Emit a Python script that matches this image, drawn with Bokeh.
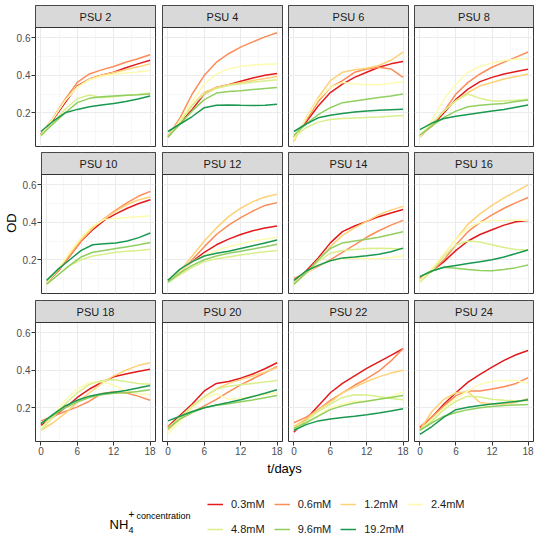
from bokeh.plotting import figure
from bokeh.layouts import column, row
from bokeh.models import Range1d, FixedTicker, BoxAnnotation, Label, Legend, LegendItem
from bokeh.embed import file_html
from bokeh.resources import INLINE

FONT = "Liberation Sans"

DAYS = [0, 2, 4, 6, 8, 10, 12, 14, 16, 18]
CONCENTRATIONS = ["0.3mM", "0.6mM", "1.2mM", "2.4mM", "4.8mM", "9.6mM", "19.2mM"]
COLORS = ["#e31a1c", "#fc8d59", "#fed176", "#fefbb0", "#d9ef8b", "#91cf60", "#1a9850"]
PANELS = ["PSU 2", "PSU 4", "PSU 6", "PSU 8", "PSU 10", "PSU 12",
          "PSU 14", "PSU 16", "PSU 18", "PSU 20", "PSU 22", "PSU 24"]
X_TICKS = [0, 6, 12, 18]
X_MINOR = [3, 9, 15]
Y_TICKS = [0.2, 0.4, 0.6]
Y_MINOR = [0.1, 0.3, 0.5]

# each panel: one list per concentration (0.3, 0.6, 1.2, 2.4, 4.8, 9.6, 19.2 mM)
psu2 = [
    [0.085, 0.164, 0.254, 0.344, 0.38, 0.40, 0.416, 0.44, 0.461, 0.48],
    [0.086, 0.173, 0.272, 0.362, 0.407, 0.429, 0.447, 0.47, 0.488, 0.51],
    [0.08, 0.17, 0.265, 0.34, 0.38, 0.40, 0.415, 0.43, 0.445, 0.461],
    [0.08, 0.17, 0.265, 0.335, 0.375, 0.395, 0.405, 0.412, 0.418, 0.425],
    [0.075, 0.145, 0.22, 0.275, 0.295, 0.28, 0.285, 0.292, 0.298, 0.305],
    [0.08, 0.14, 0.2, 0.254, 0.277, 0.285, 0.29, 0.293, 0.296, 0.30],
    [0.10, 0.155, 0.20, 0.218, 0.232, 0.241, 0.249, 0.26, 0.274, 0.29],
]
psu4 = [
    [0.07, 0.146, 0.218, 0.30, 0.335, 0.35, 0.368, 0.386, 0.40, 0.41],
    [0.074, 0.173, 0.30, 0.40, 0.47, 0.515, 0.55, 0.578, 0.605, 0.627],
    [0.07, 0.15, 0.24, 0.31, 0.335, 0.35, 0.36, 0.372, 0.383, 0.393],
    [0.07, 0.16, 0.26, 0.353, 0.407, 0.434, 0.447, 0.455, 0.459, 0.46],
    [0.07, 0.15, 0.24, 0.30, 0.33, 0.345, 0.355, 0.363, 0.37, 0.376],
    [0.07, 0.14, 0.21, 0.27, 0.305, 0.313, 0.318, 0.324, 0.33, 0.335],
    [0.10, 0.14, 0.18, 0.227, 0.24, 0.242, 0.24, 0.239, 0.24, 0.245],
]
psu6 = [
    [0.07, 0.15, 0.236, 0.308, 0.353, 0.389, 0.416, 0.443, 0.461, 0.474],
    [0.07, 0.16, 0.26, 0.335, 0.371, 0.416, 0.434, 0.443, 0.434, 0.389],
    [0.047, 0.173, 0.281, 0.371, 0.416, 0.429, 0.438, 0.452, 0.48, 0.524],
    [0.06, 0.17, 0.272, 0.335, 0.362, 0.353, 0.35, 0.35, 0.357, 0.366],
    [0.07, 0.12, 0.15, 0.164, 0.169, 0.172, 0.175, 0.178, 0.182, 0.186],
    [0.08, 0.14, 0.19, 0.227, 0.254, 0.263, 0.272, 0.281, 0.29, 0.30],
    [0.10, 0.14, 0.173, 0.187, 0.196, 0.204, 0.209, 0.213, 0.216, 0.219],
]
psu8 = [
    [0.08, 0.13, 0.20, 0.272, 0.326, 0.366, 0.389, 0.407, 0.42, 0.432],
    [0.07, 0.14, 0.209, 0.30, 0.362, 0.407, 0.443, 0.47, 0.497, 0.524],
    [0.08, 0.14, 0.21, 0.265, 0.308, 0.344, 0.362, 0.38, 0.393, 0.407],
    [0.07, 0.16, 0.272, 0.353, 0.416, 0.447, 0.465, 0.479, 0.485, 0.488],
    [0.08, 0.14, 0.21, 0.265, 0.30, 0.277, 0.263, 0.263, 0.267, 0.272],
    [0.08, 0.13, 0.175, 0.209, 0.232, 0.24, 0.245, 0.25, 0.26, 0.268],
    [0.11, 0.145, 0.169, 0.182, 0.191, 0.20, 0.209, 0.218, 0.23, 0.241],
]
psu10 = [
    [0.08, 0.14, 0.22, 0.30, 0.36, 0.41, 0.445, 0.475, 0.50, 0.52],
    [0.08, 0.14, 0.22, 0.30, 0.37, 0.42, 0.465, 0.505, 0.54, 0.565],
    [0.08, 0.15, 0.23, 0.31, 0.37, 0.42, 0.46, 0.495, 0.52, 0.535],
    [0.08, 0.15, 0.24, 0.32, 0.38, 0.415, 0.42, 0.425, 0.43, 0.435],
    [0.07, 0.12, 0.17, 0.20, 0.22, 0.23, 0.24, 0.245, 0.25, 0.256],
    [0.07, 0.12, 0.17, 0.215, 0.24, 0.25, 0.26, 0.27, 0.28, 0.292],
    [0.09, 0.15, 0.20, 0.25, 0.28, 0.285, 0.29, 0.30, 0.318, 0.343],
]
psu12 = [
    [0.09, 0.14, 0.19, 0.24, 0.28, 0.31, 0.335, 0.355, 0.37, 0.38],
    [0.09, 0.13, 0.20, 0.27, 0.335, 0.385, 0.425, 0.46, 0.49, 0.505],
    [0.09, 0.14, 0.22, 0.30, 0.37, 0.43, 0.475, 0.51, 0.535, 0.55],
    [0.09, 0.14, 0.19, 0.225, 0.25, 0.27, 0.285, 0.30, 0.31, 0.32],
    [0.08, 0.12, 0.16, 0.19, 0.205, 0.215, 0.225, 0.235, 0.243, 0.25],
    [0.08, 0.13, 0.17, 0.20, 0.22, 0.235, 0.245, 0.257, 0.27, 0.283],
    [0.09, 0.15, 0.19, 0.22, 0.235, 0.245, 0.26, 0.275, 0.29, 0.305],
]
psu14 = [
    [0.08, 0.14, 0.21, 0.29, 0.35, 0.38, 0.405, 0.43, 0.45, 0.468],
    [0.10, 0.13, 0.165, 0.20, 0.24, 0.28, 0.32, 0.355, 0.385, 0.41],
    [0.07, 0.13, 0.20, 0.27, 0.33, 0.37, 0.405, 0.44, 0.465, 0.485],
    [0.08, 0.13, 0.17, 0.195, 0.205, 0.21, 0.205, 0.207, 0.212, 0.222],
    [0.07, 0.13, 0.19, 0.235, 0.25, 0.255, 0.26, 0.262, 0.26, 0.258],
    [0.07, 0.13, 0.20, 0.26, 0.29, 0.30, 0.31, 0.32, 0.335, 0.35],
    [0.09, 0.14, 0.17, 0.195, 0.21, 0.215, 0.222, 0.23, 0.243, 0.262],
]
psu16 = [
    [0.10, 0.14, 0.19, 0.25, 0.30, 0.335, 0.36, 0.385, 0.403, 0.41],
    [0.10, 0.14, 0.20, 0.28, 0.35, 0.40, 0.44, 0.475, 0.505, 0.532],
    [0.09, 0.15, 0.23, 0.31, 0.39, 0.445, 0.49, 0.53, 0.565, 0.60],
    [0.09, 0.15, 0.23, 0.31, 0.37, 0.40, 0.41, 0.41, 0.412, 0.41],
    [0.08, 0.14, 0.22, 0.28, 0.30, 0.295, 0.28, 0.265, 0.255, 0.252],
    [0.11, 0.14, 0.16, 0.155, 0.148, 0.143, 0.142, 0.148, 0.158, 0.172],
    [0.11, 0.14, 0.16, 0.17, 0.18, 0.19, 0.20, 0.215, 0.233, 0.252],
]
psu18 = [
    [0.106, 0.15, 0.20, 0.255, 0.30, 0.335, 0.365, 0.38, 0.393, 0.405],
    [0.13, 0.155, 0.18, 0.205, 0.235, 0.275, 0.285, 0.28, 0.262, 0.24],
    [0.08, 0.12, 0.17, 0.23, 0.28, 0.33, 0.37, 0.40, 0.425, 0.44],
    [0.09, 0.16, 0.24, 0.30, 0.335, 0.34, 0.32, 0.29, 0.275, 0.27],
    [0.08, 0.15, 0.22, 0.28, 0.325, 0.345, 0.35, 0.34, 0.33, 0.325],
    [0.115, 0.16, 0.20, 0.23, 0.255, 0.27, 0.277, 0.28, 0.287, 0.296],
    [0.115, 0.165, 0.21, 0.24, 0.262, 0.275, 0.283, 0.292, 0.305, 0.319],
]
psu20 = [
    [0.10, 0.16, 0.22, 0.29, 0.33, 0.34, 0.358, 0.38, 0.408, 0.44],
    [0.10, 0.14, 0.175, 0.21, 0.245, 0.285, 0.322, 0.355, 0.387, 0.42],
    [0.08, 0.14, 0.20, 0.26, 0.30, 0.33, 0.35, 0.37, 0.39, 0.415],
    [0.06, 0.13, 0.20, 0.25, 0.275, 0.245, 0.25, 0.26, 0.27, 0.28],
    [0.09, 0.15, 0.21, 0.26, 0.30, 0.315, 0.323, 0.33, 0.337, 0.345],
    [0.09, 0.14, 0.175, 0.20, 0.213, 0.222, 0.232, 0.242, 0.254, 0.266],
    [0.13, 0.155, 0.18, 0.20, 0.215, 0.228, 0.243, 0.26, 0.277, 0.296],
]
psu22 = [
    [0.07, 0.14, 0.21, 0.28, 0.33, 0.37, 0.41, 0.445, 0.48, 0.515],
    [0.12, 0.15, 0.19, 0.24, 0.28, 0.32, 0.355, 0.395, 0.45, 0.515],
    [0.10, 0.14, 0.19, 0.23, 0.28, 0.31, 0.34, 0.365, 0.385, 0.40],
    [0.08, 0.12, 0.16, 0.20, 0.22, 0.235, 0.235, 0.245, 0.26, 0.285],
    [0.09, 0.13, 0.18, 0.22, 0.255, 0.27, 0.268, 0.26, 0.25, 0.243],
    [0.09, 0.12, 0.155, 0.19, 0.21, 0.225, 0.235, 0.245, 0.255, 0.265],
    [0.08, 0.11, 0.13, 0.14, 0.148, 0.155, 0.163, 0.172, 0.183, 0.195],
]
psu24 = [
    [0.094, 0.15, 0.22, 0.28, 0.337, 0.378, 0.417, 0.453, 0.483, 0.506],
    [0.10, 0.15, 0.21, 0.265, 0.29, 0.29, 0.30, 0.312, 0.33, 0.36],
    [0.08, 0.18, 0.245, 0.28, 0.285, 0.228, 0.22, 0.22, 0.228, 0.25],
    [0.08, 0.14, 0.20, 0.25, 0.29, 0.325, 0.34, 0.345, 0.345, 0.33],
    [0.08, 0.13, 0.19, 0.235, 0.262, 0.258, 0.245, 0.24, 0.237, 0.237],
    [0.08, 0.12, 0.155, 0.175, 0.19, 0.20, 0.207, 0.212, 0.215, 0.218],
    [0.058, 0.10, 0.15, 0.19, 0.203, 0.212, 0.22, 0.227, 0.234, 0.243],
]
PANEL_DATA = [psu2, psu4, psu6, psu8, psu10, psu12,
              psu14, psu16, psu18, psu20, psu22, psu24]

# layout constants (pixels)
PANEL_PX = 119
STRIP_PX = 22
Y_LO, Y_HI = 0.02, 0.655
Y_TOP = Y_HI + (Y_HI - Y_LO) * STRIP_PX / PANEL_PX
X_LO, X_HI = -0.9, 18.9

LEFT = [35, 4, 3, 3]
RIGHT = [3, 3, 3, 1]
FW = [120, 120, 120, 119]
TOPS = [5, 1, 1]
BOTTOMS = [5, 6, 20]


def make_panel(i):
    r, c = divmod(i, 4)
    top = TOPS[r]
    bottom = BOTTOMS[r]
    fh = PANEL_PX + STRIP_PX
    p = figure(width=LEFT[c] + FW[c] + RIGHT[c], height=top + fh + bottom,
               x_range=Range1d(X_LO, X_HI), y_range=Range1d(Y_LO, Y_TOP),
               toolbar_location=None, tools="", output_backend="svg",
               min_border_left=LEFT[c], min_border_right=RIGHT[c],
               min_border_top=top, min_border_bottom=bottom,
               x_axis_location="below" if r == 2 else None,
               y_axis_location="left" if c == 0 else None)
    p.background_fill_color = "white"
    p.border_fill_color = "white"
    p.outline_line_color = "#333333"
    p.outline_line_width = 1

    p.xgrid.ticker = FixedTicker(ticks=X_TICKS, minor_ticks=X_MINOR)
    p.ygrid.ticker = FixedTicker(ticks=Y_TICKS, minor_ticks=Y_MINOR)
    for g in (p.xgrid, p.ygrid):
        g.grid_line_color = "#ebebeb"
        g.grid_line_width = 1.1
        g.minor_grid_line_color = "#f2f2f2"
        g.minor_grid_line_width = 0.6

    axes = []
    if r == 2:
        p.xaxis.ticker = FixedTicker(ticks=X_TICKS)
        axes.append(p.xaxis)
    if c == 0:
        p.yaxis.ticker = FixedTicker(ticks=Y_TICKS)
        axes.append(p.yaxis)
        if r == 1:
            p.yaxis.axis_label = "OD"
            p.yaxis.axis_label_text_font = FONT
            p.yaxis.axis_label_text_font_size = "13px"
            p.yaxis.axis_label_text_font_style = "normal"
            p.yaxis.axis_label_text_color = "#000000"
            p.yaxis.axis_label_standoff = 1
    for ax in axes:
        ax.axis_line_color = None
        ax.major_tick_line_color = "#333333"
        ax.major_tick_out = 4
        ax.major_tick_in = 0
        ax.minor_tick_line_color = None
        ax.major_label_text_font = FONT
        ax.major_label_text_font_size = "10px"
        ax.major_label_text_color = "#4d4d4d"
        ax.major_label_standoff = 1

    for vals, col in zip(PANEL_DATA[i], COLORS):
        p.line(DAYS, vals, line_color=col, line_width=1.5)

    strip = BoxAnnotation(bottom=Y_HI, fill_color="#d9d9d9", fill_alpha=1.0,
                          line_color="#333333", line_width=1, line_alpha=1.0)
    p.add_layout(strip)
    p.add_layout(Label(x=(X_LO + X_HI) / 2, y=(Y_HI + Y_TOP) / 2, text=PANELS[i],
                       text_align="center", text_baseline="middle",
                       text_font=FONT, text_font_size="11px", text_color="#1a1a1a"))
    return p


panels = [make_panel(i) for i in range(12)]

# bottom area: x-axis title and legend
LW, LH = 534, 79
leg = figure(width=LW, height=LH, x_range=Range1d(0, LW), y_range=Range1d(LH, 0),
             toolbar_location=None, tools="", output_backend="svg",
             min_border=0, x_axis_location=None, y_axis_location=None)
leg.xgrid.visible = False
leg.ygrid.visible = False
leg.outline_line_color = None
leg.background_fill_color = "white"
leg.border_fill_color = "white"

leg.add_layout(Label(x=284, y=6.5, text="t/days", text_align="center", text_baseline="middle",
                     text_font=FONT, text_font_size="13px", text_color="#000000"))
leg.add_layout(Label(x=109, y=63, text="NH", text_align="left", text_baseline="alphabetic",
                     text_font=FONT, text_font_size="13px", text_color="#000000"))
leg.add_layout(Label(x=128, y=52, text="+", text_align="left", text_baseline="alphabetic",
                     text_font=FONT, text_font_size="10px", text_color="#000000"))
leg.add_layout(Label(x=128, y=68, text="4", text_align="left", text_baseline="alphabetic",
                     text_font=FONT, text_font_size="9px", text_color="#000000"))
leg.add_layout(Label(x=136, y=54, text="concentration", text_align="left", text_baseline="alphabetic",
                     text_font=FONT, text_font_size="9px", text_color="#000000"))

# legend key renderers: placed outside the visible range, only their style is used
dummies = [leg.line(x=[-20, -10], y=[-20, -20], line_color=col, line_width=1.5) for col in COLORS]
items = [LegendItem(label=lab, renderers=[rd]) for lab, rd in zip(CONCENTRATIONS, dummies)]


def make_legend(its, loc):
    lg = Legend(items=its, location=loc, orientation="horizontal",
                glyph_width=16, glyph_height=14, label_height=14, label_standoff=8,
                spacing=9, padding=0, margin=0, border_line_color=None,
                background_fill_alpha=0.0, label_text_font=FONT,
                label_text_font_size="11px", label_text_color="#1a1a1a")
    leg.add_layout(lg)


make_legend(items[:4], (207, 29))
make_legend(items[4:], (207, 4))

layout = column(row(*panels[0:4]), row(*panels[4:8]), row(*panels[8:12]), leg)

open("out.html", "w").write(file_html(layout, INLINE))
